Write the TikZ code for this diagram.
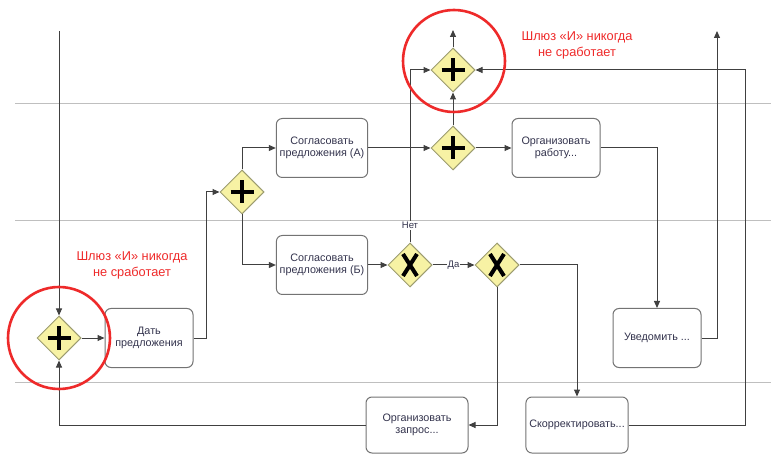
\documentclass[tikz,border=0pt]{standalone}
\usepackage{fontspec}
\setsansfont{Liberation Sans}
\usepackage{tikz}
\usetikzlibrary{positioning,shapes.geometric,arrows.meta}

\definecolor{gwfill}{HTML}{F7F2A4}
\definecolor{gwdraw}{HTML}{9C9C70}
\definecolor{boxtext}{HTML}{33334D}
\definecolor{note}{HTML}{EE2A2A}

\tikzset{
	flow/.style={draw=black!75, line width=1pt, -{Triangle[length=7pt,width=6pt]}},
	lane/.style={draw=black!25, line width=1pt},
	task/.style={draw=black!55, line width=1pt, rounded corners=6pt, fill=white,
		minimum width=88pt, minimum height=59pt, align=center, text=boxtext,
		font=\sffamily\fontsize{10.8}{12.5}\selectfont},
	gwand/.style={diamond, aspect=1, inner sep=0pt, minimum width=44pt, minimum height=44pt,
		fill=gwfill, draw=gwdraw, line width=1pt,
		path picture={\draw[black, line width=4pt] (path picture bounding box.center) ++(-11.5,0) -- ++(23,0)
			++(-11.5,-11.5) -- ++(0,23);}},
	gwxor/.style={diamond, aspect=1, inner sep=0pt, minimum width=44pt, minimum height=44pt,
		fill=gwfill, draw=gwdraw, line width=1pt,
		path picture={\draw[black, line width=4pt] (path picture bounding box.center) ++(-7,-11) -- ++(14,22)
			++(0,-22) -- ++(-14,22);}},
	remark/.style={text=note, align=center, font=\sffamily\fontsize{12.8}{16}\selectfont},
	tag/.style={fill=white, inner sep=1pt, text=boxtext, font=\sffamily\fontsize{9.5}{11}\selectfont}
}

\begin{document}
\begin{tikzpicture}[x=1pt, y=-1pt]
	\useasboundingbox (0,0) rectangle (771,454);
	% lanes
	\foreach \ly in {104,221,382}
		\draw[lane] (15,\ly) -- (771,\ly);

	% gateways
	\node[gwand] (G0) at (59,338) {};
	\node[gwand] (G1) at (242,192) {};
	\node[gwand] (G2) at (453,148) {};
	\node[gwand] (G3) at (453,70) {};
	\node[gwxor] (X1) at (410,265) {};
	\node[gwxor] (X2) at (497,265) {};

	% tasks
	\node[task, right = 23pt of G0] (tDat) {Дать\\предложения};
	\node[task] (tA) at (322,148) {Согласовать\\предложения (А)};
	\node[task] (tB) at (322,265) {Согласовать\\предложения (Б)};
	\node[task] (tWork) at (556,148) {Организовать\\работу...};
	\node[task] (tNotify) at (657,338) {Уведомить ...};
	\node[task, minimum width=102pt, minimum height=56pt] (tReq) at (417,425) {Организовать\\запрос...};
	\node[task, minimum width=102pt, minimum height=56pt] (tFix) at (577,425) {Скорректировать...};

	\coordinate (up0) at (59,31);
	\coordinate (up3) at (453,30);
	\coordinate (upN) at (717,31);
	\coordinate (fixR) at (745,425);

	% flows
	\draw[flow] (up0) -- (G0.north);
	\draw[flow] (G0.east) -- (tDat.west);
	\draw[flow] (tDat.east) -- ++(13,0) |- (G1.west);
	\draw[flow] (G1.north) |- (tA.west);
	\draw[flow] (G1.south) |- (tB.west);
	\draw[flow] (tA.east) -- (G2.west);
	\draw[flow] (G2.east) -- (tWork.west);
	\draw[flow] (G2.north) -- (G3.south);
	\draw[flow] (G3.north) -- (up3);
	\draw[flow] (tB.east) -- (X1.west);
	\draw[flow] (X1.east) -- node[tag] {Да} (X2.west);
	\draw[flow] (X1.north) |- node[tag, pos=0.05] {Нет} (G3.west);
	\draw[flow] (X2.east) -| (tFix.north);
	\draw[flow] (X2.south) |- (tReq.east);
	\draw[flow] (tReq.west) -| (G0.south);
	\draw[flow] (tWork.east) -| (tNotify.north);
	\draw[flow] (tNotify.east) -| (upN);
	\draw[flow] (tFix.east) -- (fixR) |- (G3.east);

	% remarks
	\draw[note, line width=2.6pt] (G0.center) circle (51);
	\draw[note, line width=2.6pt] (454,61) circle (51);
	\node[remark] (rTop) at (577,45) {Шлюз «И» никогда\\не сработает};
	\node[remark] (rLeft) at (132,265) {Шлюз «И» никогда\\не сработает};
\end{tikzpicture}
\end{document}
